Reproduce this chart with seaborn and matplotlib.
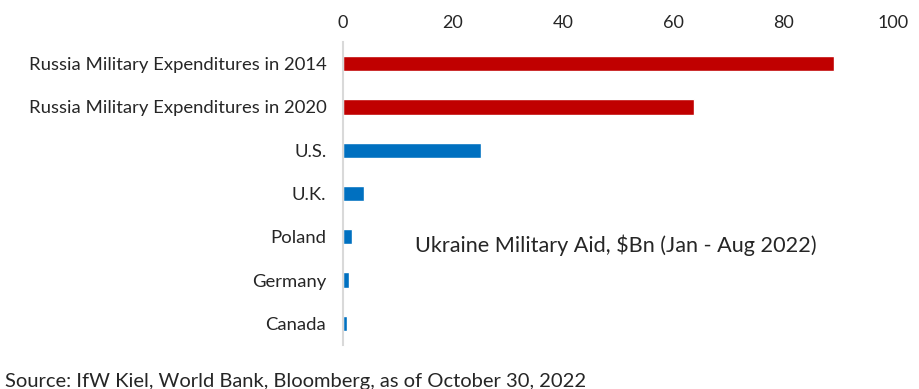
import matplotlib
matplotlib.use("Agg")
import matplotlib.pyplot as plt
import seaborn as sns
import pandas as pd

categories = ["Russia Military Expenditures in 2014", "Russia Military Expenditures in 2020",
              "U.S.", "U.K.", "Poland", "Germany", "Canada"]
values = [89.3, 63.8, 25.1, 3.8, 1.6, 1.1, 0.7]
colors = ["#C00000", "#C00000", "#0070C0", "#0070C0", "#0070C0", "#0070C0", "#0070C0"]
x_ticks = [0, 20, 40, 60, 80, 100]

sns.set_theme(style="white")
plt.rcParams['font.family'] = ['Lato', 'DejaVu Sans']

df = pd.DataFrame({"category": categories, "value": values})

fig = plt.figure(figsize=(9.2, 3.89), dpi=100)
ax = fig.add_axes([343/920, 1-345/389, (893-343)/920, (345-42)/389])
sns.barplot(data=df, y="category", x="value", hue="category", palette=colors,
            saturation=1, legend=False, width=0.35, ax=ax, orient="h")
ax.set_xlim(0, 100)
ax.set_ylim(6.5, -0.5)
ax.set_xticks(x_ticks)
ax.xaxis.tick_top()
ax.tick_params(axis="x", length=0, labelsize=13, pad=8)
ax.tick_params(axis="y", length=0, labelsize=13.3, pad=12)
ax.set_xlabel("")
ax.set_ylabel("")
for s in ["top", "right", "bottom"]:
    ax.spines[s].set_visible(False)
ax.spines["left"].set_color("#D9D9D9")
ax.spines["left"].set_linewidth(1.5)

fig.text(415/920, 1-245/389, "Ukraine Military Aid, $Bn (Jan - Aug 2022)",
         fontsize=15.6, va="center", ha="left")
fig.text(5/920, 1-381/389, "Source: IfW Kiel, World Bank, Bloomberg, as of October 30, 2022",
         fontsize=14.5, va="center", ha="left")

fig.savefig("out.png", dpi=100)
